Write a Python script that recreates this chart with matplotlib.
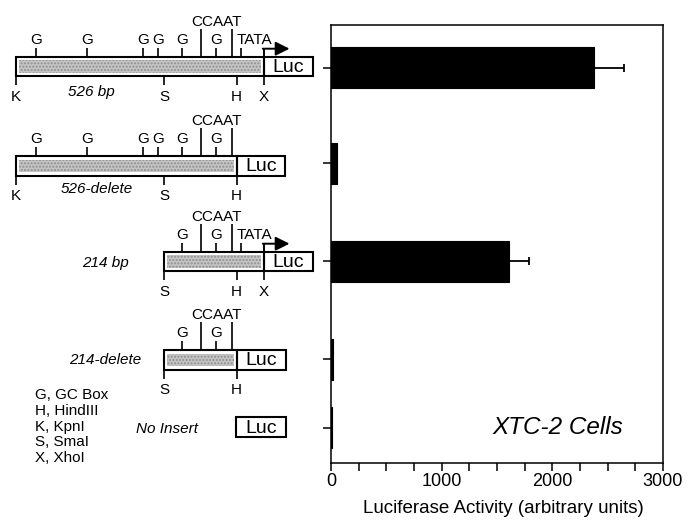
import numpy as np
import matplotlib
matplotlib.use("Agg")
import matplotlib.pyplot as plt
from matplotlib.patches import Rectangle

plt.rcParams['font.family'] = ['Liberation Sans', 'DejaVu Sans']

# data
constructs = ['526 bp', '526-delete', '214 bp', '214-delete', 'No Insert']
activity = [2380, 50, 1605, 20, 10]
activity_err = [270, 0, 185, 0, 0]
x_ticks = [0, 1000, 2000, 3000]
legend_lines = ['G, GC Box', 'H, HindIII', 'K, KpnI', 'S, SmaI', 'X, XhoI']

# layout (figure pixels, measured from the top)
row_y = [67.5, 163.3, 261, 359, 427.7]
W, H = 688, 520

fig = plt.figure(figsize=(W / 100, H / 100), dpi=100)

# ---- schematic panel, drawn in pixel coords
sk = fig.add_axes([0, 0, 1, 1])
sk.set_xlim(0, W)
sk.set_ylim(H, 0)
sk.axis('off')

LW = 1.5
FS = 11


def line(x0, y0, x1, y1, lw=1.2):
    sk.plot([x0, x1], [y0, y1], color='black', lw=lw, solid_capstyle='butt')


def luc_box(x0, x1, top, h):
    sk.add_patch(Rectangle((x0, top), x1 - x0, h, fill=False, lw=LW, ec='black'))
    sk.text((x0 + x1) / 2, top + h / 2 + 1, 'Luc', fontsize=14,
            ha='center', va='center')


def construct(top, x0, x1, xdiv, gs, ccaat, tata, below, h=19.5):
    # promoter fragment with stippled shading
    sk.add_patch(Rectangle((x0 + 3, top + 3.5), xdiv - x0 - 6, h - 7,
                           facecolor='#c4c4c4', edgecolor='#8f8f8f', lw=0,
                           hatch='.....'))
    sk.add_patch(Rectangle((x0, top), xdiv - x0, h, fill=False, lw=LW, ec='black'))
    luc_box(xdiv, x1, top, h)
    for g in gs:
        line(g, top - 9, g, top)
        sk.text(g, top - 17, 'G', fontsize=FS, ha='center', va='center')
    for c in ccaat:
        line(c, top - 28, c, top)
    sk.text(np.mean(ccaat), top - 35, 'CCAAT', fontsize=FS, ha='center', va='center')
    if tata is not None:
        line(tata, top - 9, tata, top)
        sk.text(tata - 4, top - 17, 'TATA', fontsize=FS, ha='left', va='center')
        # transcription start arrow
        line(xdiv, top, xdiv, top - 8, lw=1.4)
        sk.annotate('', xy=(xdiv + 26, top - 8), xytext=(xdiv - 0.7, top - 8),
                    arrowprops=dict(arrowstyle='-|>', color='black', lw=1.4,
                                    mutation_scale=21, shrinkA=0, shrinkB=0))
    for lab, bx in below:
        line(bx, top + h, bx, top + h + 9)
        sk.text(bx, top + h + 21, lab, fontsize=FS, ha='center', va='center')


construct(56.7, 16, 313.3, 263.5,
          [35.7, 87.3, 142.7, 157.7, 182, 216], [200.7, 231.7], 240.7,
          [('K', 16), ('S', 164.3), ('H', 236.7), ('X', 263.5)])
construct(156, 16, 285, 236.7,
          [35.7, 87.3, 142.7, 157.7, 182, 216], [200.7, 231.7], None,
          [('K', 16), ('S', 164.3), ('H', 236.7)])
construct(251.7, 164.3, 313.3, 263.5,
          [182, 216], [200.7, 231.7], 240.7,
          [('S', 164.3), ('H', 236.7), ('X', 263.5)])
construct(350, 164.3, 286, 236.7,
          [182, 216], [200.7, 231.7], None,
          [('S', 164.3), ('H', 236.7)])
luc_box(236, 286, 417.3, 20)

name_pos = [(91, 91.7), (97, 189), (105, 263.3), (105, 360), (166.7, 429)]
for name, (nx, ny) in zip(constructs, name_pos):
    sk.text(nx, ny, name, fontsize=FS, style='italic', ha='center', va='center')

for i, txt in enumerate(legend_lines):
    sk.text(35, 395 + i * 15.8, txt, fontsize=FS, ha='left', va='center')

# ---- bar chart
ax = fig.add_axes([331 / W, (H - 463) / H, (663 - 331) / W, (463 - 25) / H])
ax.set_facecolor('none')
ax.barh(row_y, activity, height=41, color='black', edgecolor='black', lw=0.8,
        xerr=[np.zeros(len(activity_err)), activity_err],
        error_kw=dict(ecolor='black', elinewidth=1.3, capsize=3, capthick=1.3))
ax.set_xlim(0, 3000)
ax.set_ylim(463, 25)
ax.set_xticks(x_ticks)
ax.set_xticks(np.arange(0, 3001, 250), minor=True)
ax.set_yticks(row_y)
ax.set_yticklabels([])
ax.tick_params(axis='x', which='both', direction='out', length=6, width=1.1,
               labelsize=13, pad=1)
ax.tick_params(axis='y', direction='out', length=5.5, width=1.1)
for s in ax.spines.values():
    s.set_linewidth(1.1)
ax.set_xlabel('Luciferase Activity (arbitrary units)', fontsize=13.5, labelpad=9)
ax.xaxis.set_label_coords(0.52, -0.085)
ax.text(558, 427.5, 'XTC-2 Cells', fontsize=17.5, style='italic',
        ha='center', va='center', transform=sk.transData)

fig.savefig('out.png', dpi=100)
